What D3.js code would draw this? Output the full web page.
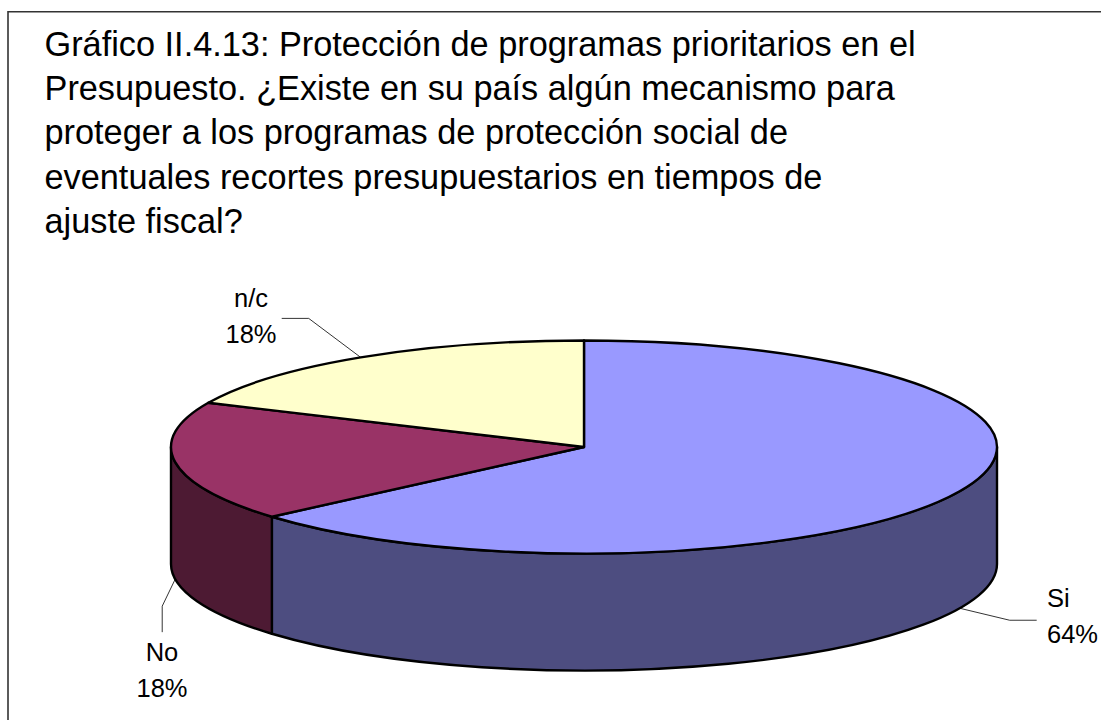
<!DOCTYPE html>
<html>
<head>
<meta charset="utf-8">
<script src="https://cdn.jsdelivr.net/npm/d3@7"></script>
<style>
  html, body { margin: 0; padding: 0; background: #fff; }
  svg { display: block; }
  text { font-family: "Liberation Sans", Arial, sans-serif; fill: #000; }
</style>
</head>
<body>
<svg id="chart" width="1101" height="720"></svg>
<script>
  var titleLines = [
    "Gráfico II.4.13: Protección de programas prioritarios en el",
    "Presupuesto. ¿Existe en su país algún mecanismo para",
    "proteger a los programas de protección social de",
    "eventuales recortes presupuestarios en tiempos de",
    "ajuste fiscal?"
  ];

  var categories = ["Si", "No", "n/c"];
  var counts = [7, 2, 2];
  var topColors = ["#9999ff", "#993366", "#ffffcc"];
  var sideColors = ["#4d4d80", "#4d1a33", "#80806a"];

  var cx = 584, cy = 447, rx = 413, ry = 106.5, depth = 117;

  var svg = d3.select("#chart");

  // the frame runs off the right and bottom of the picture
  svg.append("path")
    .attr("fill", "none")
    .attr("stroke", "#333")
    .attr("stroke-width", 1.6)
    .attr("d", "M8,720V11.8H1101");

  svg.selectAll(".title-line")
    .data(titleLines)
    .enter().append("text")
    .attr("class", "title-line")
    .attr("x", 44.5)
    .attr("y", function (d, i) { return 56 + i * 44.2; })
    .attr("font-size", 34.3)
    .text(function (d) { return d; });

  var total = d3.sum(counts);
  var pct = d3.format(".0%");

  var pie = d3.pie().sort(null)
    .value(function (d) { return d.value; });

  var slices = pie(categories.map(function (c, i) {
    return { name: c, value: counts[i], top: topColors[i], side: sideColors[i] };
  }));

  // angle is clockwise from 12 o'clock, as d3.pie gives it
  function px(a) { return cx + rx * Math.sin(a); }
  function py(a) { return cy - ry * Math.cos(a); }

  function arcTo(a, sweep, dy) {
    return "A" + rx + "," + ry + " 0 0 " + sweep + " " + px(a) + "," + (py(a) + dy);
  }

  // split long arcs so the svg arc flags stay simple
  function rim(a0, a1, sweep, dy) {
    var steps = Math.ceil(Math.abs(a1 - a0) / (Math.PI / 2));
    var s = "";
    d3.range(1, steps + 1).forEach(function (k) {
      s += arcTo(a0 + (a1 - a0) * k / steps, sweep, dy);
    });
    return s;
  }

  // only the front half of the cylinder shows
  var front = slices.map(function (d) {
    return {
      data: d.data,
      a0: Math.max(d.startAngle, Math.PI / 2),
      a1: Math.min(d.endAngle, Math.PI * 3 / 2)
    };
  }).filter(function (d) { return d.a1 > d.a0; });

  svg.selectAll(".side")
    .data(front)
    .enter().append("path")
    .attr("class", "side")
    .attr("fill", function (d) { return d.data.side; })
    .attr("stroke", "#000")
    .attr("stroke-width", 2.4)
    .attr("stroke-linejoin", "round")
    .attr("d", function (d) {
      return "M" + px(d.a0) + "," + py(d.a0) +
        rim(d.a0, d.a1, 1, 0) +
        "L" + px(d.a1) + "," + (py(d.a1) + depth) +
        rim(d.a1, d.a0, 0, depth) + "Z";
    });

  svg.selectAll(".slice")
    .data(slices)
    .enter().append("path")
    .attr("class", "slice")
    .attr("fill", function (d) { return d.data.top; })
    .attr("stroke", "#000")
    .attr("stroke-width", 2.4)
    .attr("stroke-linejoin", "round")
    .attr("d", function (d) {
      return "M" + cx + "," + cy +
        "L" + px(d.startAngle) + "," + py(d.startAngle) +
        rim(d.startAngle, d.endAngle, 1, 0) + "Z";
    });

  // leader offsets from the rim, then the label block
  var labelLayout = {
    "Si": { bend: [50, 12], end: [77, 12], x: 1047, y: 607, anchor: "start", onSide: true },
    "No": { bend: [-13, 27], end: [-13, 53], x: 162, y: 661, anchor: "middle", onSide: true },
    "n/c": { bend: [-52, -39], end: [-79, -39], x: 251, y: 307, anchor: "middle", onSide: false }
  };

  var line = d3.line();

  var labels = svg.selectAll(".label")
    .data(slices)
    .enter().append("g")
    .attr("class", "label");

  labels.append("path")
    .attr("fill", "none")
    .attr("stroke", "#000")
    .attr("stroke-width", 0.8)
    .attr("d", function (d) {
      var mid = (d.startAngle + d.endAngle) / 2;
      var l = labelLayout[d.data.name];
      var x0 = px(mid), y0 = py(mid) + (l.onSide ? depth : 0);
      return line([[x0, y0], [x0 + l.bend[0], y0 + l.bend[1]], [x0 + l.end[0], y0 + l.end[1]]]);
    });

  labels.append("text")
    .attr("text-anchor", function (d) { return labelLayout[d.data.name].anchor; })
    .attr("font-size", 25.5)
    .attr("x", function (d) { return labelLayout[d.data.name].x; })
    .attr("y", function (d) { return labelLayout[d.data.name].y; })
    .text(function (d) { return d.data.name; });

  labels.append("text")
    .attr("text-anchor", function (d) { return labelLayout[d.data.name].anchor; })
    .attr("font-size", 25.5)
    .attr("x", function (d) { return labelLayout[d.data.name].x; })
    .attr("y", function (d) { return labelLayout[d.data.name].y + 35.5; })
    .text(function (d) { return pct(d.data.value / total); });
</script>
</body>
</html>
